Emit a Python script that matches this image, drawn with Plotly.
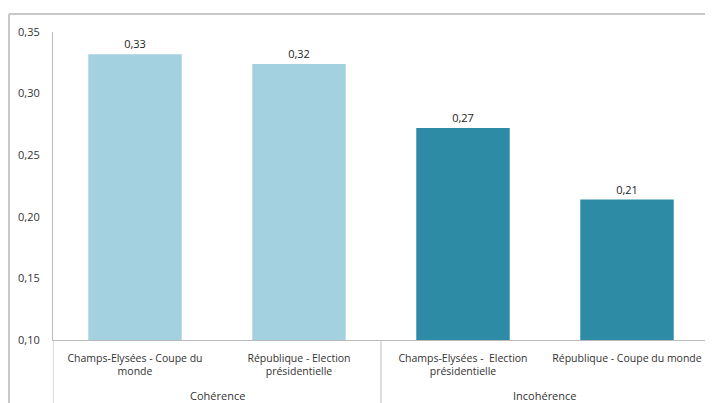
import plotly.graph_objects as go

groups = ["Cohérence", "Cohérence", "Incohérence", "Incohérence"]
labels = ["Champs-Elysées - Coupe du<br>monde", "République - Election<br>présidentielle",
          "Champs-Elysées -  Election<br>présidentielle", "République - Coupe du monde"]
values = [0.332, 0.324, 0.272, 0.214]
text_labels = ["0,33", "0,32", "0,27", "0,21"]
colors = ["#A3D1E0", "#A3D1E0", "#2E8BA6", "#2E8BA6"]
y_ticks = [0.10, 0.15, 0.20, 0.25, 0.30, 0.35]

fig = go.Figure(go.Bar(
    x=labels, y=values,
    marker=dict(color=colors, line=dict(width=0)),
    width=0.57,
    text=text_labels, textposition="outside",
    textfont=dict(size=11, color="#222222", family="Open Sans"),
    cliponaxis=False,
))

# page body has an 8px margin, so the figure is offset by 8px
OFF = 8
W, H = 713 - OFF, 403 - OFF
L, T = 53 - OFF, 32 - OFF
R = W - (709 - OFF)
B = H - (340 - OFF)
pw, ph = W - L - R, H - T - B

def px(x):
    return (x - OFF - L) / pw

def py(y):
    return (H - B - (y - OFF)) / ph

DIV = "#BBBBBB"
fig.add_shape(type="line", xref="paper", yref="paper", x0=px(9), x1=px(713), y0=py(14), y1=py(14),
              line=dict(color="#C8C8C8", width=2))
fig.add_shape(type="line", xref="paper", yref="paper", x0=px(9), x1=px(9), y0=py(14), y1=py(403),
              line=dict(color="#C8C8C8", width=2))

# group dividers and group labels, derived from the groups list
bounds = [-0.5]
for i in range(1, len(groups)):
    if groups[i] != groups[i - 1]:
        bounds.append(i - 0.5)
bounds.append(len(groups) - 0.5)
for b in bounds:
    fig.add_shape(type="line", xref="x", yref="paper", x0=b, x1=b, y0=0, y1=py(403),
                  line=dict(color=DIV, width=1))
start = 0
for i in range(1, len(groups) + 1):
    if i == len(groups) or groups[i] != groups[start]:
        fig.add_annotation(x=(start + i - 1) / 2, xref="x", y=py(395), yref="paper",
                           text=groups[start], showarrow=False, yanchor="middle",
                           font=dict(size=11, color="#333333", family="Open Sans"))
        start = i

fig.update_layout(
    width=W, height=H,
    margin=dict(l=L, r=R, t=T, b=B),
    paper_bgcolor="white", plot_bgcolor="white",
    separators=",.",
    showlegend=False,
    font=dict(family="Open Sans", size=11, color="#333333"),
    xaxis=dict(
        type="category", range=[-0.5, len(labels) - 0.5],
        showline=True, linecolor=DIV, linewidth=1,
        tickfont=dict(size=10.5, color="#333333"),
        ticks="outside", ticklen=8, tickcolor="rgba(0,0,0,0)",
        tickangle=0, automargin=False,
    ),
    yaxis=dict(
        range=[0.10, 0.35], tickvals=y_ticks, tickformat=".2f",
        showgrid=False, zeroline=False,
        showline=True, linecolor=DIV, linewidth=1,
        ticks="", ticklabelstandoff=10, automargin=False,
        tickfont=dict(size=11, color="#333333"),
    ),
)

fig.write_html("out.html")
